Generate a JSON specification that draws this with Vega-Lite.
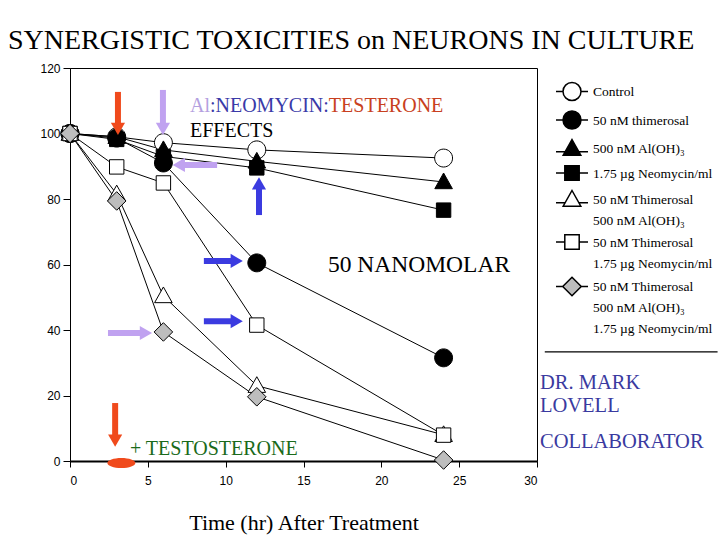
{
  "$schema": "https://vega.github.io/schema/vega-lite/v6.json",
  "width": 467,
  "height": 393,
  "autosize": {"type": "none"},
  "padding": {"left": 70, "top": 68, "right": 183, "bottom": 79},
  "background": "white",
  "title": {
    "text": "SYNERGISTIC TOXICITIES on NEURONS IN CULTURE",
    "font": "Liberation Serif",
    "fontSize": 28,
    "fontWeight": "normal",
    "color": "black",
    "anchor": "start",
    "frame": "group",
    "dx": -62,
    "baseline": "alphabetic",
    "offset": -15
  },
  "config": {
    "view": {"stroke": "black", "strokeWidth": 1},
    "style": {"guide-label": {"lineHeight": 21}},
    "axis": {
      "grid": false,
      "domainColor": "black",
      "tickColor": "black",
      "labelColor": "black",
      "labelFont": "Liberation Sans",
      "labelFontSize": 12,
      "titleColor": "black"
    }
  },
  "datasets": {
    "pts": [
      {"series": "Control", "t": 0, "v": 100},
      {"series": "Control", "t": 3, "v": 99},
      {"series": "Control", "t": 6, "v": 97.2},
      {"series": "Control", "t": 12, "v": 95},
      {"series": "Control", "t": 24, "v": 92.5},
      {"series": "50 nM thimerosal", "t": 0, "v": 100},
      {"series": "50 nM thimerosal", "t": 3, "v": 98.6},
      {"series": "50 nM thimerosal", "t": 6, "v": 91},
      {"series": "50 nM thimerosal", "t": 12, "v": 60.5},
      {"series": "50 nM thimerosal", "t": 24, "v": 31.5},
      {"series": "500 nM Al(OH)₃", "t": 0, "v": 100},
      {"series": "500 nM Al(OH)₃", "t": 3, "v": 99},
      {"series": "500 nM Al(OH)₃", "t": 6, "v": 95},
      {"series": "500 nM Al(OH)₃", "t": 12, "v": 91.5},
      {"series": "500 nM Al(OH)₃", "t": 24, "v": 85.2},
      {"series": "1.75 µg Neomycin/ml", "t": 0, "v": 100},
      {"series": "1.75 µg Neomycin/ml", "t": 3, "v": 98.2},
      {"series": "1.75 µg Neomycin/ml", "t": 6, "v": 93},
      {"series": "1.75 µg Neomycin/ml", "t": 12, "v": 89.5},
      {"series": "1.75 µg Neomycin/ml", "t": 24, "v": 76.6},
      {"series": "50 nM Thimerosal|500 nM Al(OH)₃", "t": 0, "v": 100},
      {"series": "50 nM Thimerosal|500 nM Al(OH)₃", "t": 3, "v": 81.5},
      {"series": "50 nM Thimerosal|500 nM Al(OH)₃", "t": 6, "v": 50.4},
      {"series": "50 nM Thimerosal|500 nM Al(OH)₃", "t": 12, "v": 23},
      {"series": "50 nM Thimerosal|500 nM Al(OH)₃", "t": 24, "v": 8},
      {"series": "50 nM Thimerosal|1.75 µg Neomycin/ml", "t": 0, "v": 100},
      {"series": "50 nM Thimerosal|1.75 µg Neomycin/ml", "t": 3, "v": 89.8},
      {"series": "50 nM Thimerosal|1.75 µg Neomycin/ml", "t": 6, "v": 84.9},
      {"series": "50 nM Thimerosal|1.75 µg Neomycin/ml", "t": 12, "v": 41.5},
      {"series": "50 nM Thimerosal|1.75 µg Neomycin/ml", "t": 24, "v": 7.9},
      {"series": "50 nM Thimerosal|500 nM Al(OH)₃|1.75 µg Neomycin/ml", "t": 0, "v": 100},
      {"series": "50 nM Thimerosal|500 nM Al(OH)₃|1.75 µg Neomycin/ml", "t": 3, "v": 79.4},
      {"series": "50 nM Thimerosal|500 nM Al(OH)₃|1.75 µg Neomycin/ml", "t": 6, "v": 39.4},
      {"series": "50 nM Thimerosal|500 nM Al(OH)₃|1.75 µg Neomycin/ml", "t": 12, "v": 19.6},
      {"series": "50 nM Thimerosal|500 nM Al(OH)₃|1.75 µg Neomycin/ml", "t": 24, "v": 0.3}
    ],
    "arrows": [
      {"t": 3.08, "v": 112.7, "t2": 3.08, "v2": 101.4, "agent": "Testosterone", "dir": "down"},
      {"t": 5.97, "v": 113.3, "t2": 5.97, "v2": 101.4, "agent": "Al", "dir": "down"},
      {"t": 9.45, "v": 90.4, "t2": 6.99, "v2": 90.4, "agent": "Al", "dir": "left"},
      {"t": 12.14, "v": 75.1, "t2": 12.14, "v2": 84.8, "agent": "Neomycin", "dir": "up"},
      {"t": 8.6, "v": 61.1, "t2": 10.71, "v2": 61.1, "agent": "Neomycin", "dir": "right"},
      {"t": 8.6, "v": 42.7, "t2": 10.71, "v2": 42.7, "agent": "Neomycin", "dir": "right"},
      {"t": 2.44, "v": 39.1, "t2": 4.88, "v2": 39.1, "agent": "Al", "dir": "right"},
      {"t": 2.9, "v": 17.7, "t2": 2.9, "v2": 6.2, "agent": "Testosterone", "dir": "down"}
    ]
  },
  "encoding": {
    "x": {
      "field": "t",
      "type": "quantitative",
      "scale": {"domain": [0, 30], "nice": false, "zero": false},
      "axis": {
        "values": [0, 5, 10, 15, 20, 25, 30],
        "title": "Time (hr) After Treatment",
        "titleFont": "Liberation Serif",
        "titleFontSize": 22,
        "titleFontWeight": "normal",
        "titlePadding": 26,
        "tickSize": 6,
        "labelPadding": 8,
        "domainWidth": 2
      }
    },
    "y": {
      "field": "v",
      "type": "quantitative",
      "scale": {"domain": [0, 120], "nice": false, "zero": false},
      "axis": {
        "values": [0, 20, 40, 60, 80, 100, 120],
        "title": null,
        "tickSize": 7,
        "labelPadding": 3
      }
    }
  },
  "layer": [
    {
      "data": {"name": "pts"},
      "mark": {"type": "line", "color": "black", "strokeWidth": 1},
      "encoding": {"detail": {"field": "series"}, "order": {"field": "t"}}
    },
    {
      "data": {"name": "pts"},
      "mark": {"type": "point", "filled": true, "stroke": "black", "strokeWidth": 1, "size": 1024, "opacity": 1},
      "encoding": {
        "shape": {
          "field": "series",
          "legend": null,
          "scale": {
            "domain": ["Control", "50 nM thimerosal", "500 nM Al(OH)₃", "1.75 µg Neomycin/ml", "50 nM Thimerosal|500 nM Al(OH)₃", "50 nM Thimerosal|1.75 µg Neomycin/ml", "50 nM Thimerosal|500 nM Al(OH)₃|1.75 µg Neomycin/ml"],
            "range": [
              "M0.56,0A0.56,0.56 0 1,1 -0.56,0A0.56,0.56 0 1,1 0.56,0Z",
              "M0.56,0A0.56,0.56 0 1,1 -0.56,0A0.56,0.56 0 1,1 0.56,0Z",
              "M0,-0.56L0.55,0.42L-0.55,0.42Z",
              "M-0.45,-0.45L0.45,-0.45L0.45,0.45L-0.45,0.45Z",
              "M0,-0.56L0.55,0.42L-0.55,0.42Z",
              "M-0.45,-0.45L0.45,-0.45L0.45,0.45L-0.45,0.45Z",
              "M0,-0.58L0.58,0L0,0.58L-0.58,0Z"
            ]
          }
        },
        "fill": {
          "field": "series",
          "legend": null,
          "scale": {
            "domain": ["Control", "50 nM thimerosal", "500 nM Al(OH)₃", "1.75 µg Neomycin/ml", "50 nM Thimerosal|500 nM Al(OH)₃", "50 nM Thimerosal|1.75 µg Neomycin/ml", "50 nM Thimerosal|500 nM Al(OH)₃|1.75 µg Neomycin/ml"],
            "range": ["white", "black", "black", "black", "white", "white", "#bdbdbd"]
          }
        }
      }
    },
    {
      "data": {"name": "pts"},
      "mark": {"type": "point", "filled": true, "stroke": "black", "strokeWidth": 1, "size": 0, "opacity": 1},
      "encoding": {
        "shape": {
          "field": "series",
          "scale": {
            "domain": ["Control", "50 nM thimerosal", "500 nM Al(OH)₃", "1.75 µg Neomycin/ml", "50 nM Thimerosal|500 nM Al(OH)₃", "50 nM Thimerosal|1.75 µg Neomycin/ml", "50 nM Thimerosal|500 nM Al(OH)₃|1.75 µg Neomycin/ml"],
            "range": [
              "M-1.78,-0.5L-1,-0.5M1,-0.5L1.78,-0.5M1,-0.5A1,1 0 1,1 -1,-0.5A1,1 0 1,1 1,-0.5Z",
              "M-1.78,-0.5L-1,-0.5M1,-0.5L1.78,-0.5M1,-0.5A1,1 0 1,1 -1,-0.5A1,1 0 1,1 1,-0.5Z",
              "M-1.78,-0.15L-0.7,-0.15M0.7,-0.15L1.78,-0.15M0,-1.5L0.98,0.25L-0.98,0.25Z",
              "M-1.78,-0.5L-0.8,-0.5M0.8,-0.5L1.78,-0.5M-0.8,-1.3L0.8,-1.3L0.8,0.3L-0.8,0.3Z",
              "M-1.78,-0.15L-0.7,-0.15M0.7,-0.15L1.78,-0.15M0,-1.5L0.98,0.25L-0.98,0.25Z",
              "M-1.78,-0.5L-0.8,-0.5M0.8,-0.5L1.78,-0.5M-0.8,-1.3L0.8,-1.3L0.8,0.3L-0.8,0.3Z",
              "M-1.78,-0.5L-1.03,-0.5M1.03,-0.5L1.78,-0.5M0,-1.53L1.03,-0.5L0,0.53L-1.03,-0.5Z"
            ]
          },
          "legend": {
            "orient": "none",
            "legendX": 492,
            "legendY": 18,
            "title": null,
            "padding": 0,
            "labelFont": "Liberation Serif",
            "labelFontSize": 13.5,
            "labelColor": "black",
            "labelBaseline": "alphabetic",
            "symbolSize": 324,
            "rowPadding": 3.5,
            "labelOffset": 11,
            "labelLimit": 300,
            "labelExpr": "split(datum.label, '|')",
            "encode": {
              "symbols": {"stroke": {"value": "black"}, "strokeWidth": {"value": 1}, "opacity": {"value": 1}}
            }
          }
        },
        "fill": {
          "field": "series",
          "scale": {
            "domain": ["Control", "50 nM thimerosal", "500 nM Al(OH)₃", "1.75 µg Neomycin/ml", "50 nM Thimerosal|500 nM Al(OH)₃", "50 nM Thimerosal|1.75 µg Neomycin/ml", "50 nM Thimerosal|500 nM Al(OH)₃|1.75 µg Neomycin/ml"],
            "range": ["white", "black", "black", "black", "white", "white", "#bdbdbd"]
          },
          "legend": {
            "orient": "none",
            "legendX": 492,
            "legendY": 18,
            "title": null,
            "padding": 0,
            "labelFont": "Liberation Serif",
            "labelFontSize": 13.5,
            "labelColor": "black",
            "labelBaseline": "alphabetic",
            "symbolSize": 324,
            "rowPadding": 3.5,
            "labelOffset": 11,
            "labelLimit": 300,
            "labelExpr": "split(datum.label, '|')",
            "encode": {
              "symbols": {"stroke": {"value": "black"}, "strokeWidth": {"value": 1}, "opacity": {"value": 1}}
            }
          }
        }
      }
    },
    {
      "data": {"name": "arrows"},
      "mark": {"type": "rule", "strokeWidth": 6, "strokeCap": "butt"},
      "encoding": {
        "x2": {"field": "t2"},
        "y2": {"field": "v2"},
        "color": {
          "field": "agent",
          "legend": null,
          "scale": {"domain": ["Al", "Neomycin", "Testosterone"], "range": ["#c0a2f0", "#3b3be0", "#f04a1c"]}
        }
      }
    },
    {
      "data": {"name": "arrows"},
      "mark": {"type": "point", "filled": true, "size": 200, "opacity": 1},
      "encoding": {
        "x": {"field": "t2", "type": "quantitative"},
        "y": {"field": "v2", "type": "quantitative"},
        "shape": {
          "field": "dir",
          "legend": null,
          "scale": {"domain": ["down", "left", "up", "right"], "range": ["triangle-down", "triangle-left", "triangle-up", "triangle-right"]}
        },
        "color": {
          "field": "agent",
          "legend": null,
          "scale": {"domain": ["Al", "Neomycin", "Testosterone"], "range": ["#c0a2f0", "#3b3be0", "#f04a1c"]}
        }
      }
    },
    {
      "data": {"values": [{"t": 3.3, "v": -0.6}]},
      "mark": {"type": "point", "filled": true, "color": "#f04a1c", "opacity": 1, "size": 784, "shape": "M-1,0A1,0.36 0 1,0 1,0A1,0.36 0 1,0 -1,0Z"},
      "encoding": {}
    },
    {
      "data": {"values": [{"t": 30.5, "t2": 41.6, "v": 33.3}]},
      "mark": {"type": "rule", "color": "black", "strokeWidth": 1.2},
      "encoding": {"x2": {"field": "t2"}}
    },
    {
      "data": {"values": [
        {"t": 7.71, "v": 108.4, "txt": "Al", "part": "Al"},
        {"t": 8.99, "v": 108.4, "txt": ":NEOMYCIN:", "part": "Neomycin"},
        {"t": 16.63, "v": 108.4, "txt": "TESTERONE", "part": "Testosterone"}
      ]},
      "mark": {"type": "text", "align": "left", "baseline": "middle", "font": "Liberation Serif", "fontSize": 20},
      "encoding": {
        "text": {"field": "txt"},
        "color": {
          "field": "part",
          "legend": null,
          "scale": {"domain": ["Al", "Neomycin", "Testosterone"], "range": ["#b4a0e0", "#3a3aa8", "#c84020"]}
        }
      }
    },
    {
      "data": {"values": [{"t": 7.71, "v": 100.8, "txt": "EFFECTS"}]},
      "mark": {"type": "text", "align": "left", "baseline": "middle", "font": "Liberation Serif", "fontSize": 20, "color": "black"},
      "encoding": {"text": {"field": "txt"}}
    },
    {
      "data": {"values": [{"t": 16.57, "v": 59.8, "txt": "50 NANOMOLAR"}]},
      "mark": {"type": "text", "align": "left", "baseline": "middle", "font": "Liberation Serif", "fontSize": 23.5, "color": "black"},
      "encoding": {"text": {"field": "txt"}}
    },
    {
      "data": {"values": [{"t": 3.85, "v": 3.66, "txt": "+ TESTOSTERONE"}]},
      "mark": {"type": "text", "align": "left", "baseline": "middle", "font": "Liberation Serif", "fontSize": 20, "color": "#1a6a1a"},
      "encoding": {"text": {"field": "txt"}}
    },
    {
      "data": {"values": [
        {"t": 30.19, "v": 23.8, "txt": "DR. MARK"},
        {"t": 30.19, "v": 16.8, "txt": "LOVELL"},
        {"t": 30.19, "v": 5.8, "txt": "COLLABORATOR"}
      ]},
      "mark": {"type": "text", "align": "left", "baseline": "middle", "font": "Liberation Serif", "fontSize": 20.5, "color": "#3a3aa0"},
      "encoding": {"text": {"field": "txt"}}
    }
  ],
  "resolve": {"scale": {"shape": "independent", "fill": "independent", "color": "independent"}}
}
